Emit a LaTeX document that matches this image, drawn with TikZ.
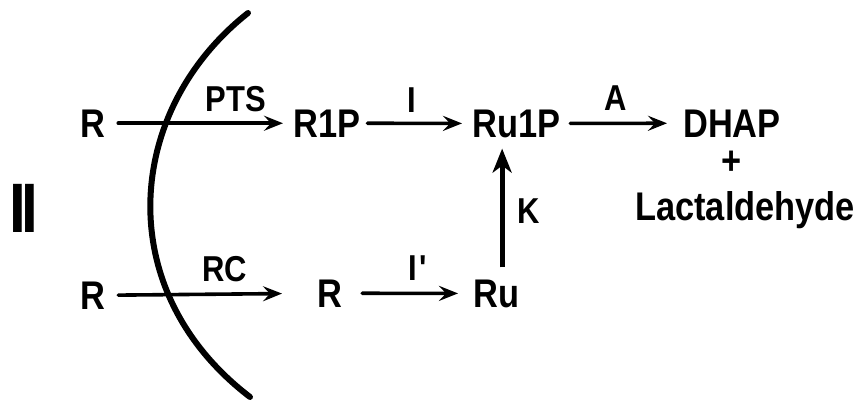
\documentclass[tikz,border=0pt]{standalone}
\usepackage{fontspec}
\setmainfont{Liberation Sans}[FakeStretch=0.86]
\usetikzlibrary{arrows.meta}
\tikzset{
  chem/.style={font=\fontsize{40}{42}\selectfont\bfseries, inner sep=0pt, anchor=base west},
  enz/.style={font=\fontsize{36}{38}\selectfont\bfseries, inner sep=0pt, anchor=base},
  rxn/.style={line width=3.6pt, line cap=round,
    -{Stealth[length=19pt,width=15pt,inset=7pt]}},
  rxnbig/.style={line width=5pt,
    -{Stealth[length=24pt,width=19pt,inset=7pt]}},
  barrier/.style={line width=6pt, line cap=round}
}
\begin{document}
\begin{tikzpicture}[x=1pt,y=-1pt]
\useasboundingbox (0,0) rectangle (861,404);

% pathway label
\node[font=\fontsize{70}{72}\selectfont\bfseries, inner sep=0pt, anchor=base west]
  (pathno) at (9,232) {I\kern-4pt I};

% upper route: phosphotransferase system
\node[chem] (Rt)   at (80,137)  {R};
\node[chem] (R1P)  at (293,137) {R1P};
\node[chem] (Ru1P) at (472,137) {Ru1P};
\node[chem] (DHAP) at (683,137) {DHAP};
\node[chem, anchor=center] (plus) at (732,163) {+};
\node[chem] (lact) at (635,220) {Lactaldehyde};

% lower route: ribose carrier
\node[chem] (Rb)  at (80,309)  {R};
\node[chem] (Rin) at (317,307) {R};
\node[chem] (Ru)  at (473,307) {Ru};

% enzyme labels
\node[enz] (pts) at (236,111) {PTS};
\node[enz] (iso) at (412,112) {I};
\node[enz] (ald) at (616,110) {A};
\node[enz] (rc)  at (225,281) {RC};
\node[enz] (isop) at (418,280) {I\kern2pt\textquotesingle};
\node[enz, anchor=base west] (kin) at (517,223) {K};

% reactions
\draw[rxn, shorten <=13pt, shorten >=10pt] (Rt.east) -- (R1P.west);
\draw[rxn, shorten <=7pt, shorten >=10pt] (R1P.east) -- (Ru1P.west);
\draw[rxn, shorten <=10pt, shorten >=16pt] (Ru1P.east) -- (DHAP.west);
\draw[rxn, shorten <=13pt, shorten >=35pt] (Rb.east) -- (Rin.west);
\draw[rxn, shorten <=20pt, shorten >=15pt] (Rin.east) -- (Ru.west);
\draw[rxnbig, shorten <=12pt, shorten >=11pt]
  ([xshift=6pt]Ru.north) -- ([xshift=6pt]Ru.north |- Ru1P.south);

% cell membrane
\draw[barrier] (248,13) .. controls (125,110) and (110,290) .. (250,397);
\end{tikzpicture}
\end{document}
